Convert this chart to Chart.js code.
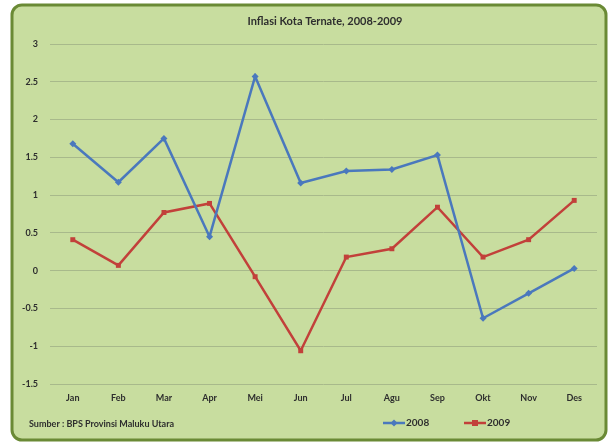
<!DOCTYPE html>
<html>
<head>
<meta charset="utf-8">
<script src="https://cdn.jsdelivr.net/npm/chart.js@4.4.0/dist/chart.umd.min.js"></script>
<style>
  html, body { margin: 0; padding: 0; background: #ffffff; }
  #wrap { position: relative; width: 610px; height: 444px; }
  canvas { display: block; }
</style>
</head>
<body>
<div id="wrap"><canvas id="c" width="610" height="444"></canvas></div>
<script>
const months = ["Jan", "Feb", "Mar", "Apr", "Mei", "Jun", "Jul", "Agu", "Sep", "Okt", "Nov", "Des"];
const inflasi2008 = [1.68, 1.17, 1.75, 0.45, 2.57, 1.16, 1.32, 1.34, 1.53, -0.63, -0.30, 0.03];
const inflasi2009 = [0.41, 0.07, 0.77, 0.89, -0.08, -1.06, 0.18, 0.29, 0.84, 0.18, 0.41, 0.93];
const seriesNames = ["2008", "2009"];
const chartTitle = "Inflasi Kota Ternate, 2008-2009";
const sourceText = "Sumber : BPS Provinsi Maluku Utara";
const yMin = -1.5, yMax = 3, yStep = 0.5;

const BLUE = "#4a78bd";
const RED = "#c2403a";
const FONT = "Lato, 'Open Sans', sans-serif";
const TEXT = "#2e2e2e";

const framePlugin = {
  id: "frame",
  beforeDraw(chart) {
    const ctx = chart.ctx;
    ctx.save();
    ctx.fillStyle = "#ffffff";
    ctx.fillRect(0, 0, chart.width, chart.height);
    const x = 12, y = 5, w = 594, h = 435, r = 10;
    ctx.beginPath();
    ctx.moveTo(x + r, y);
    ctx.arcTo(x + w, y, x + w, y + h, r);
    ctx.arcTo(x + w, y + h, x, y + h, r);
    ctx.arcTo(x, y + h, x, y, r);
    ctx.arcTo(x, y, x + w, y, r);
    ctx.closePath();
    ctx.fillStyle = "#c8dd9f";
    ctx.fill();
    ctx.lineWidth = 3;
    ctx.strokeStyle = "#6a8a35";
    ctx.stroke();
    ctx.restore();
  },
  afterDraw(chart) {
    const ctx = chart.ctx;
    ctx.save();
    ctx.fillStyle = TEXT;
    ctx.font = "bold 11px " + FONT;
    ctx.textAlign = "center";
    ctx.textBaseline = "middle";
    ctx.fillText(chartTitle, 325, 21);
    ctx.font = "bold 9px " + FONT;
    ctx.textAlign = "left";
    ctx.fillText(sourceText, 29, 424);
    const items = [
      { name: seriesNames[0], color: BLUE, style: "diamond", x: 383 },
      { name: seriesNames[1], color: RED, style: "square", x: 464 }
    ];
    items.forEach(it => {
      const ly = 423;
      ctx.strokeStyle = it.color;
      ctx.lineWidth = 2.5;
      ctx.beginPath();
      ctx.moveTo(it.x, ly);
      ctx.lineTo(it.x + 22, ly);
      ctx.stroke();
      ctx.fillStyle = it.color;
      const cx = it.x + 11;
      if (it.style === "diamond") {
        ctx.beginPath();
        ctx.moveTo(cx, ly - 3.5);
        ctx.lineTo(cx + 3.5, ly);
        ctx.lineTo(cx, ly + 3.5);
        ctx.lineTo(cx - 3.5, ly);
        ctx.closePath();
        ctx.fill();
      } else {
        ctx.fillRect(cx - 3, ly - 3, 6, 6);
      }
      ctx.fillStyle = TEXT;
      ctx.font = "bold 10px " + FONT;
      ctx.textAlign = "left";
      ctx.fillText(it.name, it.x + 23, ly);
    });
    ctx.restore();
  }
};

new Chart(document.getElementById("c"), {
  type: "line",
  data: {
    labels: months,
    datasets: [
      {
        label: seriesNames[0],
        data: inflasi2008,
        borderColor: BLUE,
        backgroundColor: BLUE,
        borderWidth: 2.5,
        pointStyle: "rectRot",
        pointRadius: 3.5,
        pointBorderWidth: 0,
        tension: 0
      },
      {
        label: seriesNames[1],
        data: inflasi2009,
        borderColor: RED,
        backgroundColor: RED,
        borderWidth: 2.5,
        pointStyle: "rect",
        pointRadius: 3.5,
        pointBorderWidth: 0,
        tension: 0
      }
    ]
  },
  options: {
    responsive: false,
    animation: false,
    devicePixelRatio: 1,
    layout: { padding: { left: 0, top: 44, right: 13, bottom: 30 } },
    plugins: {
      legend: { display: false },
      title: { display: false },
      tooltip: { enabled: false }
    },
    scales: {
      x: {
        offset: true,
        grid: { display: false, drawTicks: false },
        border: { display: false },
        ticks: { color: TEXT, font: { family: FONT, size: 9, weight: "bold" }, padding: 9, maxRotation: 0 },
        afterFit(s) { s.height = 30; }
      },
      y: {
        min: yMin,
        max: yMax,
        ticks: {
          stepSize: yStep,
          color: TEXT,
          font: { family: FONT, size: 9, weight: "bold" },
          padding: 12,
          callback: (v) => String(Number(v.toFixed(1)))
        },
        grid: { color: "#a8b98b", lineWidth: 1, drawTicks: false },
        border: { display: false },
        afterFit(s) { s.width = 50; }
      }
    }
  },
  plugins: [framePlugin]
});
</script>
</body>
</html>
